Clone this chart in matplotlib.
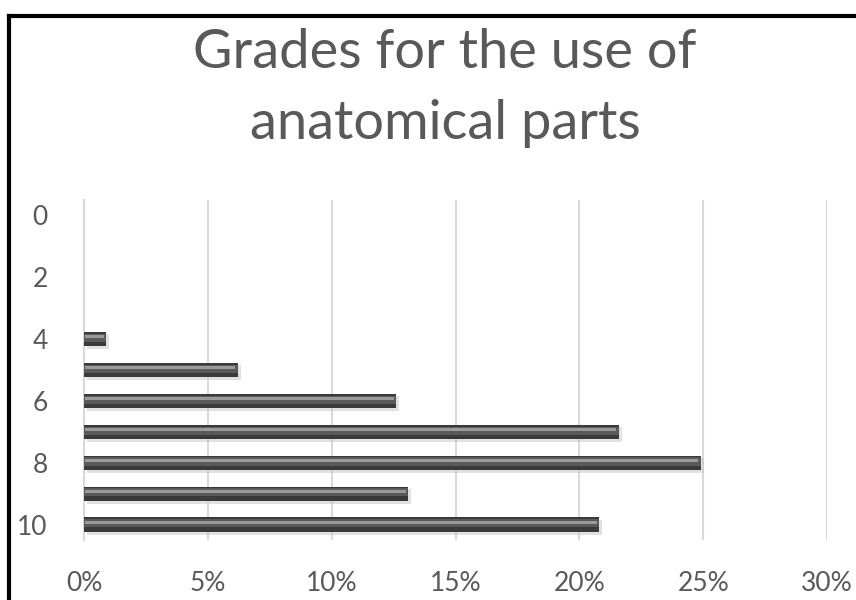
import matplotlib
matplotlib.use("Agg")
import matplotlib.pyplot as plt
from matplotlib.lines import Line2D
import numpy as np

grades = [0, 1, 2, 3, 4, 5, 6, 7, 8, 9, 10]
shares = [0.0, 0.0, 0.0, 0.0, 0.9, 6.2, 12.6, 21.6, 24.9, 13.1, 20.8]
x_ticks = [0, 5, 10, 15, 20, 25, 30]
x_tick_labels = ["0%", "5%", "10%", "15%", "20%", "25%", "30%"]
y_ticks = [0, 2, 4, 6, 8, 10]
title = "Grades for the use of\nanatomical parts"

plt.rcParams['font.family'] = ['Lato', 'DejaVu Sans']

fig = plt.figure(figsize=(8.56, 6.0), dpi=100)
ax = fig.add_axes([84/856, 0.1, (827-84)/856, 0.5667])

y = np.array(grades, dtype=float)
vals = np.array(shares)
# shadow
ax.barh(y + 0.09, vals, height=0.48, left=0.12, color="#c4c4c4", alpha=0.5, zorder=2, linewidth=0)
# main bar
ax.barh(y, vals, height=0.46, color="#3a3a3a", zorder=3, linewidth=0)
# mid tone
ax.barh(y - 0.04, vals, height=0.26, color="#5a5a5a", zorder=4, linewidth=0)
# highlight
ax.barh(y - 0.07, np.maximum(vals - 0.15, 0), left=0.05, height=0.10, color="#9a9a9a", zorder=5, linewidth=0)

ax.set_xlim(0, 30)
ax.set_ylim(10.5, -0.5)
ax.set_xticks(x_ticks)
ax.set_xticklabels(x_tick_labels)
ax.set_yticks(y_ticks)
ax.grid(axis='x', color="#d9d9d9", linewidth=1.5, zorder=0)
ax.set_axisbelow(True)
for s in ['top', 'right', 'bottom']:
    ax.spines[s].set_visible(False)
ax.spines['left'].set_color("#d9d9d9")
ax.spines['left'].set_linewidth(1.5)
ax.tick_params(axis='both', length=0, labelsize=19, labelcolor="#595959")
ax.tick_params(axis='y', pad=26)
ax.tick_params(axis='x', pad=22)

fig.text(445/856, 1 - 88/600, title, ha='center', va='center', fontsize=39,
         color="#595959", linespacing=1.55)

# outer border (top and left)
fig.add_artist(Line2D([9/856, 1.0], [1 - 16/600, 1 - 16/600], color="black", lw=3, transform=fig.transFigure))
fig.add_artist(Line2D([9/856, 9/856], [0, 1 - 16/600], color="black", lw=3, transform=fig.transFigure))

fig.savefig("out.png", dpi=100)
